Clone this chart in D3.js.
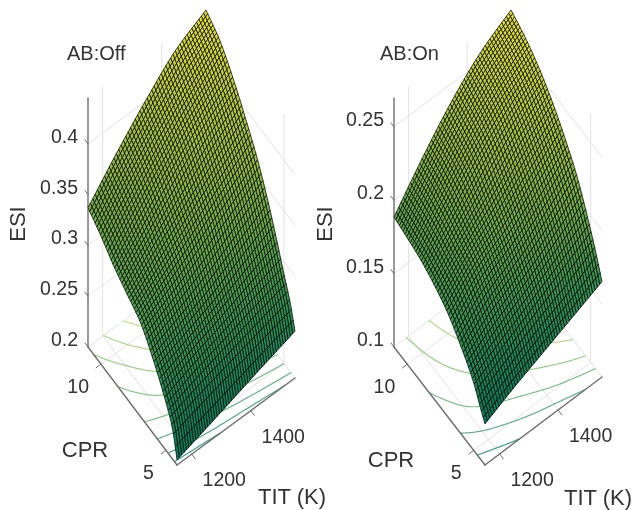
<!DOCTYPE html>
<html><head><meta charset="utf-8">
<script src="https://d3js.org/d3.v7.min.js"></script>
<style>html,body{margin:0;padding:0;background:#fff}svg{display:block;filter:blur(0.5px)}text{font-family:"Liberation Sans",Arial,sans-serif;fill:#333}</style>
</head><body><svg id="c" width="633" height="510"></svg>
<script>
// ESI values at a coarse set of TIT / CPR positions.
// The drawing mesh and the floor contours are resampled from these readings.
const titReadings = [1150, 1250, 1350, 1450, 1550];
const cprReadings = [4.15, 4.5, 5, 6, 7, 8, 9, 10, 11];
const esiOff = [
  [.205, .215, .2255, .236, .246],
  [.230, .240, .249, .258, .267],
  [.247, .259, .269, .279, .288],
  [.273, .285, .298, .314, .330],
  [.293, .310, .328, .347, .365],
  [.303, .327, .350, .372, .392],
  [.313, .343, .371, .396, .416],
  [.326, .358, .387, .413, .435],
  [.337, .371, .402, .429, .446]
];
const esiOn = [
  [.128, .138, .147, .156, .165],
  [.135, .146, .156, .165, .176],
  [.146, .157, .168, .179, .190],
  [.160, .175, .186, .199, .214],
  [.171, .189, .201, .216, .231],
  [.178, .197, .214, .231, .245],
  [.183, .205, .226, .243, .256],
  [.186, .211, .233, .251, .264],
  [.1886, .215, .2385, .257, .2697]
];
const titTicks = [1200, 1400];
const cprTicks = [5, 10];
const offTicks = [0.2, 0.25, 0.3, 0.35, 0.4];
const onTicks = [0.1, 0.15, 0.2, 0.25];
const offLevels = [.22, .2425, .265, .2875, .31, .3325, .355, .3775, .40, .4225];
const onLevels = [.14, .16, .18, .20, .22, .24, .26];

const panels = [
  {title: "AB:Off", titleX: 67, grid: esiOff, zTicks: offTicks, levels: offLevels, zDom: [.2, .445],
   o: [177, 465], ut: [118, -87], vt: [-89, -118], hTop: 249, zFmt: d3.format(".2~f"), cprLabel: [85, 449], titLabel: [292, 496], esiX: 17},
  {title: "AB:On", titleX: 380, grid: esiOn, zTicks: onTicks, levels: onLevels, zDom: [.1, .2697],
   o: [485, 465], ut: [117, -88], vt: [-91, -118], hTop: 249, zFmt: d3.format(".2~f"), cprLabel: [391, 459], titLabel: [598, 497], esiX: 324}
];

function tangents(xs, ys) {
  const n = xs.length, d = [], m = new Array(n);
  for (let i = 0; i < n - 1; i++) d.push((ys[i + 1] - ys[i]) / (xs[i + 1] - xs[i]));
  m[0] = d[0]; m[n - 1] = d[n - 2];
  for (let i = 1; i < n - 1; i++) m[i] = d[i - 1] * d[i] <= 0 ? 0 : 2 * d[i - 1] * d[i] / (d[i - 1] + d[i]);
  return m;
}
function cubic(xs, ys, x) {
  const m = tangents(xs, ys);
  let i = Math.min(xs.length - 2, Math.max(0, d3.bisectRight(xs, x) - 1));
  const h = xs[i + 1] - xs[i], t = (x - xs[i]) / h;
  const a = 2*t*t*t - 3*t*t + 1, b = t*t*t - 2*t*t + t, c = -2*t*t*t + 3*t*t, e = t*t*t - t*t;
  return a*ys[i] + b*h*m[i] + c*ys[i + 1] + e*h*m[i + 1];
}
function esiAt(grid, tit, cpr) {
  const col = titReadings.map((_, j) => cubic(cprReadings, grid.map(r => r[j]), cpr));
  return cubic(titReadings, col, tit);
}
const summerLine = t => d3.rgb(255 * t, 255 * (.5 + .5 * t), 255 * .42).formatHex();
const summerFace = t => {
  const s = Math.pow(t, 1.15) * .9;
  return d3.rgb(255 * (.02 + .98 * s), 255 * (.49 + .44 * s), 255 * (.36 - .18 * s)).formatHex();
};
const svg = d3.select("#c");
const MESH = 50, FINE = 160;
const GRID = "#e2e2e2", AXIS = "#6e6e6e";

panels.forEach(p => {
  const g = svg.append("g");
  const uS = d3.scaleLinear().domain(d3.extent(titReadings)).range([0, 1]);
  const vS = d3.scaleLinear().domain(d3.extent(cprReadings)).range([0, 1]);
  const hS = d3.scaleLinear().domain(p.zDom).range([0, p.hTop]);
  const proj = (tit, cpr, z) => {
    const u = uS(tit), v = vS(cpr);
    return [p.o[0] + u * p.ut[0] + v * p.vt[0], p.o[1] + u * p.ut[1] + v * p.vt[1] - hS(z)];
  };
  const [t0, t1] = uS.domain(), [c0, c1] = vS.domain(), [z0, z1] = p.zDom;
  const seg = (a, b, color, w) => g.append("line")
    .attr("x1", a[0]).attr("y1", a[1]).attr("x2", b[0]).attr("y2", b[1])
    .attr("stroke", color).attr("stroke-width", w).attr("stroke-linecap", "round");

  // back walls and floor grid
  titTicks.forEach(t => {
    seg(proj(t, c1, z0), proj(t, c1, z1), GRID, 1);
    seg(proj(t, c0, z0), proj(t, c1, z0), GRID, 1);
  });
  cprTicks.forEach(c => {
    seg(proj(t1, c, z0), proj(t1, c, z1), GRID, 1);
    seg(proj(t0, c, z0), proj(t1, c, z0), GRID, 1);
  });
  p.zTicks.forEach(z => {
    seg(proj(t0, c1, z), proj(t1, c1, z), GRID, 1);
    seg(proj(t1, c1, z), proj(t1, c0, z), GRID, 1);
  });

  // floor contours
  const vals = new Float64Array((FINE + 1) * (FINE + 1));
  const sampleT = i => t0 + (t1 - t0) * i / FINE, sampleC = j => c0 + (c1 - c0) * j / FINE;
  for (let j = 0; j <= FINE; j++) for (let i = 0; i <= FINE; i++)
    vals[j * (FINE + 1) + i] = esiAt(p.grid, sampleT(i), sampleC(j));
  const cg = d3.contours().size([FINE + 1, FINE + 1]).thresholds(p.levels)(vals);
  const [zMin, zMax] = d3.extent(vals);
  const colorT = d3.scaleLinear().domain([zMin, zMax]).range([0, 1]).clamp(true);
  const lineGen = d3.line();
  cg.forEach(level => {
    const color = summerLine(colorT(level.value));
    level.coordinates.forEach(poly => poly.forEach(ring => {
      let run = [];
      const flush = () => {
        if (run.length > 1) g.append("path").attr("d", lineGen(run)).attr("fill", "none")
          .attr("stroke", color).attr("stroke-width", 1.2).attr("stroke-opacity", .8);
        run = [];
      };
      ring.forEach(pt => {
        const inside = pt[0] >= .5 && pt[0] <= FINE + .5 && pt[1] >= .5 && pt[1] <= FINE + .5;
        if (!inside) { flush(); return; }
        run.push(proj(sampleT(pt[0] - .5), sampleC(pt[1] - .5), z0));
      });
      flush();
    }));
  });

  // axes and ticks
  seg(proj(t0, c1, z0), proj(t0, c1, z1), AXIS, 1.4);
  seg(proj(t0, c1, z0), proj(t0, c0, z0), AXIS, 1.4);
  seg(proj(t0, c0, z0), proj(t1, c0, z0), AXIS, 1.4);
  const text = (s, x, y, size, anchor) => g.append("text").attr("x", x).attr("y", y)
    .attr("font-size", size).attr("text-anchor", anchor).text(s);
  const unit = vec => { const l = Math.hypot(vec[0], vec[1]); return [vec[0] / l, vec[1] / l]; };
  const uDir = unit(p.ut), vDir = unit(p.vt);
  p.zTicks.forEach(z => {
    const a = proj(t0, c1, z);
    seg(a, [a[0] + vDir[0] * 5, a[1] + vDir[1] * 5], AXIS, 1);
    text(p.zFmt(z), a[0] - 10, a[1] - 1, 19.5, "end");
  });
  cprTicks.forEach(c => {
    const a = proj(t0, c, z0);
    seg(a, [a[0] - uDir[0] * 6, a[1] - uDir[1] * 6], AXIS, 1);
    text(c, a[0] - 12, a[1] + 29, 19.5, "end");
  });
  titTicks.forEach(t => {
    const a = proj(t, c0, z0);
    seg(a, [a[0] - vDir[0] * 6, a[1] - vDir[1] * 6], AXIS, 1);
    text(t, a[0] + 32.5, a[1] + 32, 19.5, "middle");
  });

  // surface, painted from the back corner towards the viewer
  const px = d3.scaleLinear().domain([0, MESH]).range([t0, t1]);
  const py = d3.scaleLinear().domain([0, MESH]).range([c0, c1]);
  const z = [];
  for (let j = 0; j <= MESH; j++) { z.push([]); for (let i = 0; i <= MESH; i++) z[j].push(esiAt(p.grid, px(i), py(j))); }
  const faces = g.append("g").attr("stroke", "#000").attr("stroke-width", .72).attr("stroke-linejoin", "round");
  for (let j = MESH - 1; j >= 0; j--) for (let i = MESH - 1; i >= 0; i--) {
    const cs = [[i, j], [i + 1, j], [i + 1, j + 1], [i, j + 1]];
    const mean = d3.mean(cs, c => z[c[1]][c[0]]);
    faces.append("path")
      .attr("d", d3.line()(cs.map(c => proj(px(c[0]), py(c[1]), z[c[1]][c[0]]))) + "Z")
      .attr("fill", summerFace(colorT(mean)));
  }

  // texts
  text(p.title, p.titleX, 60, 20, "start");
  text("CPR", p.cprLabel[0], p.cprLabel[1] + 8, 22, "middle");
  text("TIT (K)", p.titLabel[0], p.titLabel[1] + 8, 22, "middle");
  g.append("text").attr("transform", `translate(${p.esiX + 8},224) rotate(-90)`)
    .attr("font-size", 22).attr("text-anchor", "middle").text("ESI");
});
</script></body></html>
